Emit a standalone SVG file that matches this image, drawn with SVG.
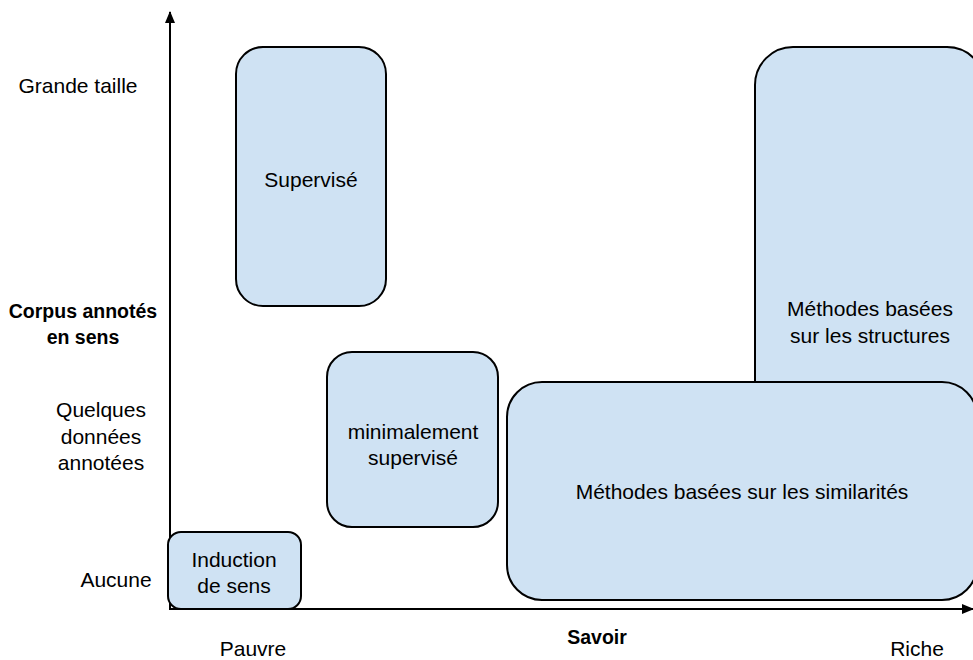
<svg xmlns="http://www.w3.org/2000/svg" width="973" height="660" viewBox="0 0 973 660">
<defs>
<style>
.box{fill:#cfe2f3;stroke:#000;stroke-width:2}
.t{font-family:"Liberation Sans",Arial,sans-serif;font-size:21px;fill:#000;text-anchor:middle}
.b{font-weight:bold;font-size:19.5px}
.ax{stroke:#000;stroke-width:2;fill:none}
</style>
<marker id="arr" viewBox="0 0 12 10" refX="11" refY="5" markerWidth="12" markerHeight="10" markerUnits="userSpaceOnUse" orient="auto">
<path d="M0,0 L12,5 L0,10 Z" fill="#000"/>
</marker>
</defs>
<rect width="973" height="660" fill="#fff"/>
<g id="connectors">
<line class="ax" x1="170" y1="610" x2="170" y2="12" marker-end="url(#arr)"/>
<line class="ax" x1="169" y1="609" x2="973" y2="609" marker-end="url(#arr)"/>
</g>
<g id="axis-labels">
<text class="t" x="78" y="93">Grande taille</text>
<text class="t b" x="83" y="318">Corpus annotés</text>
<text class="t b" x="83" y="344">en sens</text>
<text class="t" x="101" y="417">Quelques</text>
<text class="t" x="101" y="444">données</text>
<text class="t" x="101" y="470">annotées</text>
<text class="t" x="116" y="587">Aucune</text>
<text class="t" x="253" y="656">Pauvre</text>
<text class="t b" x="597" y="644">Savoir</text>
<text class="t" x="917" y="656">Riche</text>
</g>
<g id="supervise">
<rect class="box" x="236" y="47" width="150" height="259" rx="27" ry="27"/>
<text class="t" x="311" y="187">Supervisé</text>
</g>
<g id="structures">
<rect class="box" x="755" y="47" width="230" height="400" rx="38" ry="38"/>
<text class="t" x="870" y="316">Méthodes basées</text>
<text class="t" x="870" y="343">sur les structures</text>
</g>
<g id="minimalement">
<rect class="box" x="327" y="352" width="171" height="175" rx="25" ry="25"/>
<text class="t" x="413" y="439">minimalement</text>
<text class="t" x="413" y="465">supervisé</text>
</g>
<g id="similarites">
<rect class="box" x="507" y="382" width="470" height="218" rx="35" ry="35"/>
<text class="t" x="742" y="499">Méthodes basées sur les similarités</text>
</g>
<g id="induction">
<rect class="box" x="168" y="532" width="133" height="77" rx="13" ry="13"/>
<text class="t" x="234" y="567">Induction</text>
<text class="t" x="234" y="593">de sens</text>
</g>
</svg>
